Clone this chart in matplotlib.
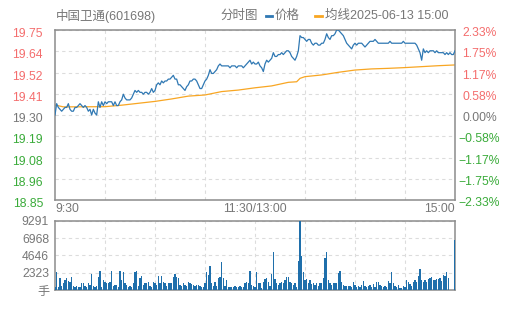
import numpy as np
import matplotlib
matplotlib.use('Agg')
import matplotlib.pyplot as plt
from matplotlib.lines import Line2D
from matplotlib.transforms import ScaledTranslation

plt.rcParams['font.family'] = ['Liberation Sans', 'Noto Sans CJK SC']

# minute index 0..240 (9:30 -> 11:30 / 13:00 -> 15:00)
prev_close = 19.30
price = [
    19.30, 19.36, 19.34, 19.33, 19.32, 19.33, 19.34, 19.34, 19.36, 19.33,
    19.32, 19.32, 19.34, 19.34, 19.35, 19.36, 19.35, 19.34, 19.35, 19.34,
    19.32, 19.33, 19.30, 19.33, 19.31, 19.30, 19.37, 19.34, 19.37, 19.35,
    19.37, 19.36, 19.37, 19.37, 19.37, 19.35, 19.37, 19.35, 19.35, 19.37,
    19.38, 19.41, 19.39, 19.38, 19.38, 19.38, 19.39, 19.41, 19.43, 19.42,
    19.43, 19.42, 19.42, 19.41, 19.42, 19.42, 19.41, 19.42, 19.44, 19.42,
    19.43, 19.46, 19.47, 19.46, 19.48, 19.47, 19.48, 19.48, 19.49, 19.49,
    19.50, 19.51, 19.49, 19.49, 19.46, 19.46, 19.45, 19.44, 19.43, 19.45,
    19.46, 19.48, 19.48, 19.49, 19.49, 19.48, 19.46, 19.44, 19.44, 19.46,
    19.48, 19.49, 19.51, 19.54, 19.52, 19.52, 19.53, 19.54, 19.56, 19.57,
    19.56, 19.56, 19.56, 19.56, 19.56, 19.55, 19.56, 19.56, 19.56, 19.55,
    19.56, 19.56, 19.56, 19.55, 19.56, 19.57, 19.58, 19.59, 19.57, 19.58,
    19.57, 19.57, 19.58, 19.56, 19.55, 19.53, 19.57, 19.59, 19.58, 19.59,
    19.60, 19.63, 19.61, 19.61, 19.62, 19.62, 19.63, 19.62, 19.63, 19.64,
    19.64, 19.63, 19.61, 19.60, 19.59, 19.61, 19.64, 19.72, 19.71, 19.71,
    19.70, 19.69, 19.70, 19.70, 19.68, 19.67, 19.68, 19.68, 19.67, 19.67,
    19.68, 19.68, 19.70, 19.73, 19.71, 19.70, 19.72, 19.72, 19.73, 19.75,
    19.75, 19.74, 19.73, 19.72, 19.70, 19.68, 19.67, 19.66, 19.65, 19.67,
    19.68, 19.67, 19.68, 19.68, 19.68, 19.67, 19.66, 19.67, 19.68, 19.69,
    19.69, 19.69, 19.70, 19.69, 19.68, 19.68, 19.68, 19.68, 19.68, 19.68,
    19.68, 19.69, 19.68, 19.68, 19.68, 19.68, 19.68, 19.68, 19.68, 19.69,
    19.68, 19.68, 19.68, 19.68, 19.68, 19.68, 19.68, 19.67, 19.65, 19.63,
    19.59, 19.65, 19.63, 19.64, 19.63, 19.64, 19.64, 19.64, 19.63, 19.64,
    19.63, 19.63, 19.63, 19.63, 19.62, 19.63, 19.62, 19.63, 19.62, 19.62,
    19.64,
]
volume = [
    400, 2457, 357, 1563, 536, 893, 1340, 1563, 1250, 1117,
    1787, 536, 357, 536, 357, 357, 983, 893, 536, 357,
    893, 670, 2144, 536, 357, 536, 1697, 2591, 357, 1340,
    1117, 983, 893, 1117, 2591, 536, 670, 670, 357, 2591,
    1340, 2457, 893, 670, 450, 536, 357, 893, 2457, 2591,
    536, 1563, 1876, 670, 893, 983, 1117, 536, 357, 1117,
    893, 670, 1876, 893, 1876, 1117, 893, 536, 983, 983,
    983, 1787, 2144, 1697, 1563, 670, 536, 893, 670, 536,
    1117, 893, 804, 670, 536, 670, 670, 536, 357, 357,
    893, 2457, 2010, 3216, 893, 536, 1117, 536, 1563, 1787,
    3797, 1563, 536, 1340, 357, 357, 450, 357, 536, 450,
    357, 536, 450, 357, 893, 1117, 983, 2591, 670, 536,
    357, 2457, 893, 893, 313, 1117, 1474, 1653, 1117, 581,
    2144, 5048, 1429, 893, 670, 983, 1117, 893, 1340, 1787,
    1787, 1117, 893, 670, 893, 447, 3886, 9291, 4600, 2457,
    1340, 1429, 893, 1340, 759, 893, 670, 893, 581, 893,
    893, 1563, 4244, 5048, 1340, 893, 670, 983, 893, 893,
    2234, 2546, 1117, 670, 581, 581, 581, 581, 447, 1117,
    670, 447, 581, 447, 670, 1251, 581, 447, 581, 670,
    447, 759, 447, 1117, 1117, 670, 581, 447, 581, 447,
    1206, 893, 2367, 893, 581, 447, 670, 313, 313, 581,
    447, 1340, 1117, 759, 581, 1117, 1340, 1117, 1921, 2814,
    1340, 1117, 1340, 1117, 1474, 1563, 1787, 1340, 1340, 1429,
    1429, 1563, 1206, 2010, 1876, 2367, 1563, 0, 0, 0,
    6700,
]
avg_t = [0, 5, 30, 40, 50, 60, 70, 80, 90, 100, 110, 120, 130, 140, 145, 147,
         150, 160, 170, 180, 190, 200, 210, 220, 230, 240]
avg_v = [19.353, 19.343, 19.344, 19.352, 19.362, 19.372, 19.385, 19.400, 19.406,
         19.424, 19.432, 19.444, 19.454, 19.473, 19.476, 19.494, 19.503, 19.512,
         19.526, 19.538, 19.544, 19.547, 19.551, 19.556, 19.561, 19.565]

price_ticks = [18.85, 18.9625, 19.075, 19.1875, 19.30, 19.4125, 19.525, 19.6375, 19.75]
price_labels = ['18.85', '18.96', '19.08', '19.19', '19.30', '19.41', '19.52', '19.64', '19.75']
pct_labels = ['\u22122.33%', '\u22121.75%', '\u22121.17%', '\u22120.58%', '0.00%',
              '0.58%', '1.17%', '1.75%', '2.33%']
vol_ticks = [0, 2323, 4646, 6968, 9291]
vol_labels = ['手', '2323', '4646', '6968', '9291']
x_ticks = [0, 120, 240]
x_labels = ['9:30', '11:30/13:00', '15:00']

RED = '#f46d6d'
GREEN = '#3aab3a'
GRAY = '#777777'
BLUE = '#2f78b3'
ORANGE = '#f8a623'
FRAME = '#8c8c8c'
GRID = '#dcdcdc'


def colour_for(v):
    if v > prev_close + 1e-9:
        return RED
    if v < prev_close - 1e-9:
        return GREEN
    return GRAY


fig = plt.figure(figsize=(5.05, 3.10), dpi=100)
ax = fig.add_axes([55/505, 110/310, 400/505, 170/310])
axv = fig.add_axes([55/505, 20/310, 400/505, 69.3/310])

t = np.arange(len(price))
ax.plot(t, price, color=BLUE, lw=0.9, zorder=3)
ax.plot(avg_t, avg_v, color=ORANGE, lw=0.9, zorder=2)
ax.set_xlim(0, 240)
ax.set_ylim(price_ticks[0], price_ticks[-1])

axv.bar(np.arange(len(volume)), volume, width=0.65, color='#1f6fab', lw=0, zorder=3)
axv.set_xlim(0, 240)
axv.set_ylim(0, vol_ticks[-1])

for a in (ax, axv):
    for s in a.spines.values():
        s.set_color(FRAME)
        s.set_linewidth(1.1)
    a.set_xticks(range(30, 240, 30), minor=True)
    a.grid(True, which='minor', axis='x', color=GRID, ls=(0, (3, 3)), lw=0.8)
    a.grid(True, which='major', axis='y', color=GRID, ls=(0, (3, 3)), lw=0.8)
    a.tick_params(which='both', length=0)

down_l = ScaledTranslation(0, -2.5/100, fig.dpi_scale_trans)
down_r = ScaledTranslation(0, -1.5/100, fig.dpi_scale_trans)

ax.set_yticks(price_ticks)
ax.set_yticklabels(price_labels, fontsize=8.7)
ax.tick_params(axis='y', pad=8.6)
for lab, v in zip(ax.get_yticklabels(), price_ticks):
    lab.set_color(colour_for(v))
    lab.set_transform(lab.get_transform() + down_l)

ax.set_xticks(x_ticks)
ax.set_xticklabels(x_labels, fontsize=8.7, color=GRAY)
ax.tick_params(axis='x', pad=2)
xl = ax.get_xticklabels()
xl[0].set_ha('left')
xl[-1].set_ha('right')

axr = ax.twinx()
axr.set_ylim(ax.get_ylim())
axr.set_yticks(price_ticks)
axr.set_yticklabels(pct_labels, fontsize=8.7)
axr.tick_params(axis='y', length=0, pad=17.6)
for s in axr.spines.values():
    s.set_visible(False)
for lab, v in zip(axr.get_yticklabels(), price_ticks):
    lab.set_ha('center')
    lab.set_color(colour_for(v))
    lab.set_transform(lab.get_transform() + down_r)

axv.set_xticks([])
axv.set_yticks(vol_ticks)
axv.set_yticklabels(vol_labels, fontsize=8.7, color=GRAY)
axv.tick_params(axis='y', pad=4.3)

# header line
hy = 1 - 16/310
fig.text(56/505, hy, '中国卫通(601698)', fontsize=9.0, color=GRAY, va='center')
fig.text(220/505, hy, '分时图', fontsize=9.0, color=GRAY, va='center')
fig.add_artist(Line2D([266/505, 272/505], [1 - 15.5/310] * 2, color=BLUE, lw=2))
fig.text(275/505, hy, '价格', fontsize=9.0, color=GRAY, va='center')
fig.add_artist(Line2D([315/505, 322/505], [1 - 15.5/310] * 2, color=ORANGE, lw=2))
fig.text(325/505, hy, '均线2025-06-13 15:00', fontsize=9.0, color=GRAY, va='center')

fig.savefig('out.png', dpi=100)
